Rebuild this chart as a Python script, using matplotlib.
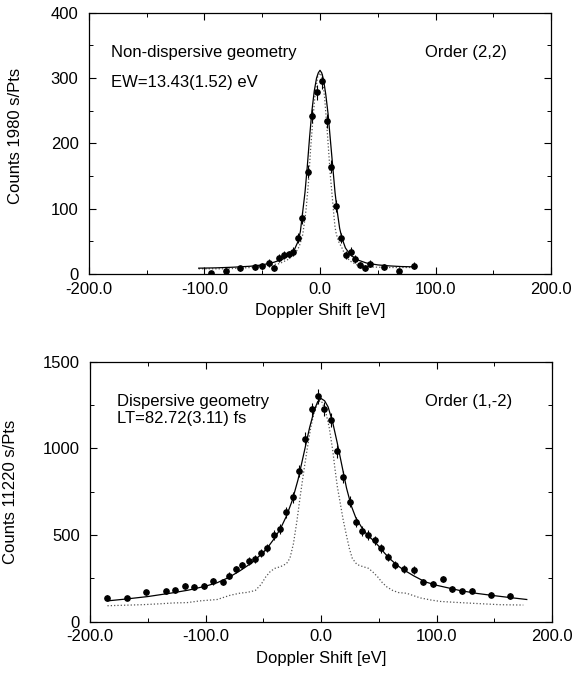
import matplotlib
matplotlib.use("Agg")
import matplotlib.pyplot as plt
from matplotlib.ticker import MultipleLocator, FormatStrFormatter

plt.rcParams.update({
    "font.family": ["Liberation Sans", "DejaVu Sans"],
    "font.size": 12,
    "xtick.direction": "in", "ytick.direction": "in",
    "xtick.top": True, "ytick.right": True,
    "axes.linewidth": 0.9,
})

# ---- panel 1: non-dispersive geometry, order (2,2) ----
top_x = [-94, -81.6, -69.3, -56.3, -50.3, -44, -40, -35.4, -31.3, -27.2, -23.1,
         -19, -15.2, -10.8, -7, -2.8, 1.6, 5.7, 9.5, 13.6, 18.4, 22.5, 26.6,
         30.7, 35, 39, 43.4, 55.7, 68, 81.3]
top_y = [1.5, 5, 8.7, 11, 12, 17, 9, 25, 29, 30, 34, 55, 86, 157, 242, 278, 295,
         234, 164, 104, 55, 29, 34, 23, 14, 9, 16, 11, 4, 13]
top_err = [3, 4, 4, 5, 5, 6, 5, 6, 6, 6, 7, 8, 9, 10, 11, 12, 12, 11, 10, 9, 8,
           6, 7, 6, 5, 5, 5, 5, 4, 5]

top_fit_x = [-105, -90, -75, -60, -50, -40, -32, -26, -22, -19, -17, -15, -13,
             -11, -9, -7, -5, -3, -1.5, 0, 1.5, 3, 5, 7, 9, 11, 13, 15, 17, 19,
             22, 26, 32, 40, 50, 60, 70, 83]
top_fit_y = [9, 9.5, 10.5, 12, 14, 18, 23, 30, 38, 50, 65, 95, 125, 165, 210,
             250, 280, 300, 308, 312, 308, 298, 275, 245, 205, 165, 125, 95, 70,
             55, 40, 30, 22, 17, 14, 12.5, 11.5, 11]

top_res_x = [-105, -80, -60, -45, -35, -28, -22, -18, -15, -13, -12, -10, -8,
             -6, -4, -2, 0, 2, 4, 6, 7, 9, 11, 12, 13, 14, 16, 19, 22, 26, 32,
             40, 60, 83]
top_res_y = [8, 8, 10, 13, 16, 22, 30, 42, 60, 85, 100, 140, 195, 240, 280, 302,
             308, 300, 270, 225, 200, 150, 110, 90, 72, 62, 50, 40, 28, 20, 14,
             11, 10, 10]

# ---- panel 2: dispersive geometry, order (1,-2) ----
bot_x = [-185.1, -168, -151.3, -134.5, -126.6, -118, -109.8, -101.6, -93.4,
         -85.1, -79.4, -74, -68.7, -62.7, -57.3, -52.2, -46.5, -41.1, -35.8,
         -30.1, -24.7, -19.3, -13.9, -8.2, -2.8, 2.5, 8.2, 13.6, 19, 24.7,
         30.1, 35.4, 40.8, 46.5, 52.2, 57.9, 63.6, 71.5, 80, 88.3, 96.8,
         105.4, 113.6, 122.2, 130.4, 147.2, 163.6]
bot_y = [138, 137, 169, 175, 181, 206, 202, 208, 233, 229, 265, 302, 325, 352,
         363, 398, 425, 500, 535, 631, 717, 871, 1056, 1225, 1300, 1229, 1162,
         983, 837, 692, 577, 523, 500, 471, 423, 373, 327, 304, 298, 231, 217,
         246, 188, 175, 179, 156, 148]
bot_err = [14, 14, 16, 16, 16, 18, 18, 18, 19, 19, 20, 22, 22, 23, 23, 24, 25,
           27, 28, 30, 32, 35, 38, 40, 42, 40, 40, 37, 35, 32, 29, 28, 27, 26,
           25, 23, 22, 21, 21, 18, 18, 19, 17, 16, 16, 15, 15]

bot_fit_x = [-185, -170, -150, -130, -115, -100, -90, -80, -70, -60, -50, -45,
             -40, -35, -30, -25, -20, -15, -10, -6, -3, 0, 3, 6, 10, 14, 18,
             22, 26, 30, 35, 40, 45, 50, 55, 60, 65, 70, 80, 90, 100, 110, 120,
             135, 150, 165, 178]
bot_fit_y = [120, 130, 145, 165, 182, 205, 225, 255, 295, 340, 400, 440, 485,
             540, 610, 700, 820, 970, 1120, 1220, 1270, 1288, 1275, 1240, 1150,
             1030, 900, 770, 670, 600, 545, 500, 470, 435, 395, 360, 330, 305,
             265, 230, 210, 195, 180, 163, 150, 138, 128]

bot_res_x = [-185, -170, -155, -140, -128, -116, -105, -90, -79, -70, -64, -57,
             -52, -48, -44, -40, -35, -30, -27, -24, -21, -18, -15, -12, -9,
             -6, -3, -1, 1, 4, 7, 10, 12, 14, 16.5, 19, 22, 24.5, 27, 31, 36,
             41, 45, 49, 53, 57, 62, 67, 74, 80, 86, 95, 103, 115, 126, 140,
             155, 175]
bot_res_y = [92, 95, 98, 103, 108, 110, 120, 128, 152, 165, 169, 180, 215, 258,
             290, 308, 318, 335, 367, 450, 580, 730, 870, 1000, 1120, 1210,
             1260, 1275, 1265, 1210, 1120, 990, 880, 780, 685, 590, 495, 420,
             365, 330, 318, 308, 285, 258, 225, 200, 180, 168, 164, 150, 137,
             125, 117, 112, 108, 103, 98, 96]

fig = plt.figure(figsize=(5.74, 6.75), dpi=100)
ax1 = fig.add_axes([0.155, 0.594, 0.805, 0.387])
ax2 = fig.add_axes([0.157, 0.079, 0.805, 0.385])


def style(ax, ymax, ymajor, yminor, ylabel, ylab_x, ylab_y):
    ax.set_xlim(-200, 200)
    ax.set_ylim(0, ymax)
    ax.xaxis.set_major_locator(MultipleLocator(100))
    ax.xaxis.set_minor_locator(MultipleLocator(50))
    ax.yaxis.set_major_locator(MultipleLocator(ymajor))
    ax.yaxis.set_minor_locator(MultipleLocator(yminor))
    ax.xaxis.set_major_formatter(FormatStrFormatter("%.1f"))
    ax.tick_params(which="major", length=5, width=0.8)
    ax.tick_params(which="minor", length=3, width=0.7)
    ax.tick_params(axis="x", pad=5.5)
    ax.tick_params(axis="y", pad=7.5)
    ax.set_xlabel("Doppler Shift [eV]")
    ax.set_ylabel(ylabel)
    ax.xaxis.set_label_coords(0.5, -0.112)
    ax.yaxis.set_label_coords(ylab_x, ylab_y)


ax1.plot(top_res_x, top_res_y, ls=":", color="#555555", lw=0.9)
ax1.plot(top_fit_x, top_fit_y, color="black", lw=0.9)
ax1.errorbar(top_x, top_y, yerr=top_err, fmt="o", color="black", ms=3.8,
             elinewidth=0.8, capsize=0)
style(ax1, 400, 100, 50, "Counts 1980 s/Pts", -0.143, 0.53)
ax1.text(-181, 340, "Non-dispersive geometry", va="center")
ax1.text(-181, 294, "EW=13.43(1.52) eV", va="center")
ax1.text(91, 340, "Order (2,2)", va="center")

ax2.plot(bot_res_x, bot_res_y, ls=":", color="#555555", lw=0.9)
ax2.plot(bot_fit_x, bot_fit_y, color="black", lw=0.9)
ax2.errorbar(bot_x, bot_y, yerr=bot_err, fmt="o", color="black", ms=3.8,
             elinewidth=0.8, capsize=0)
style(ax2, 1500, 500, 250, "Counts 11220 s/Pts", -0.157, 0.5)
ax2.text(-177, 1271, "Dispersive geometry", va="center")
ax2.text(-177, 1171, "LT=82.72(3.11) fs", va="center")
ax2.text(90, 1271, "Order (1,-2)", va="center")

fig.savefig("out.png", dpi=100)
